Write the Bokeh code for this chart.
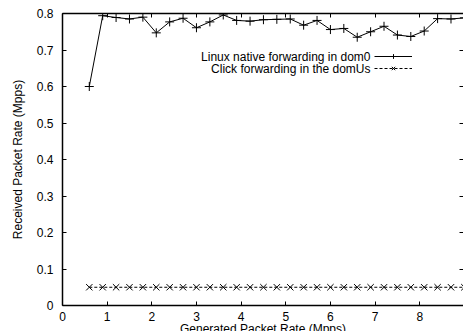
from bokeh.plotting import figure
from bokeh.models import Range1d, LinearAxis, FixedTicker, Legend, LegendItem, Label
from bokeh.embed import file_html
from bokeh.resources import INLINE

gen_rate = [0.6, 0.9, 1.2, 1.5, 1.8, 2.1, 2.4, 2.7, 3.0, 3.3, 3.6, 3.9, 4.2, 4.5, 4.8,
            5.1, 5.4, 5.7, 6.0, 6.3, 6.6, 6.9, 7.2, 7.5, 7.8, 8.1, 8.4, 8.7, 9.0]
linux_native = [0.600, 0.794, 0.789, 0.785, 0.790, 0.747, 0.777, 0.787, 0.761, 0.777,
                0.796, 0.781, 0.779, 0.783, 0.784, 0.785, 0.768, 0.781, 0.756, 0.759,
                0.735, 0.750, 0.765, 0.741, 0.737, 0.752, 0.786, 0.785, 0.788]
click_domus = [0.05, 0.05, 0.05, 0.05, 0.05, 0.05, 0.05, 0.05, 0.05, 0.05,
               0.05, 0.05, 0.05, 0.05, 0.05, 0.05, 0.05, 0.05, 0.05, 0.05,
               0.05, 0.05, 0.05, 0.05, 0.05, 0.05, 0.05, 0.05, 0.05]
series_names = ["Linux native forwarding in dom0", "Click forwarding in the domUs"]
x_ticks = [0, 1, 2, 3, 4, 5, 6, 7, 8]
y_ticks = [0, 0.1, 0.2, 0.3, 0.4, 0.5, 0.6, 0.7, 0.8]
y_tick_labels = ["0", "0.1", "0.2", "0.3", "0.4", "0.5", "0.6", "0.7", "0.8"]
x_title = "Generated Packet Rate (Mpps)"
y_title = "Received Packet Rate (Mpps)"

FONT = "Liberation Sans"
FS = "12px"

p = figure(width=463, height=338, output_backend="svg", toolbar_location=None,
           x_range=Range1d(0, 8.98), y_range=Range1d(0, 0.8),
           min_border_left=62, min_border_top=13, min_border_bottom=0, min_border_right=0,
           outline_line_color=None, background_fill_color="white", border_fill_color="white")
p.grid.visible = False

# main axes
xa = p.xaxis[0]
xa.ticker = FixedTicker(ticks=x_ticks)
xa.axis_label = x_title
ya = p.yaxis[0]
ya.ticker = FixedTicker(ticks=y_ticks)
ya.major_label_overrides = {t: l for t, l in zip(y_ticks, y_tick_labels)}
ya.axis_label = y_title
for ax in (xa, ya):
    ax.major_tick_in = 4
    ax.major_tick_out = 0
    ax.minor_tick_line_color = None
    ax.axis_line_width = 1.5
    ax.axis_line_color = "black"
    ax.major_tick_line_color = "black"
    ax.major_label_text_font = FONT
    ax.major_label_text_font_size = FS
    ax.major_label_text_color = "black"
    ax.axis_label_text_font = FONT
    ax.axis_label_text_font_size = FS
    ax.axis_label_text_font_style = "normal"
    ax.axis_label_text_color = "black"
xa.major_label_standoff = 6
xa.axis_label_standoff = -2
ya.major_label_standoff = 9
ya.axis_label_standoff = 9

# mirrored top and right axes (ticks only)
top = LinearAxis(ticker=FixedTicker(ticks=x_ticks), major_label_text_font_size="0px",
                 major_label_standoff=0, major_tick_in=4, major_tick_out=0,
                 minor_tick_line_color=None, axis_line_width=1.5, axis_line_color="black")
p.add_layout(top, "above")
right = LinearAxis(ticker=FixedTicker(ticks=y_ticks), major_label_text_font_size="0px",
                   major_label_standoff=0, major_tick_in=4, major_tick_out=0,
                   minor_tick_line_color=None, axis_line_color=None)
p.add_layout(right, "right")

# series
l1 = p.line(gen_rate, linux_native, line_color="black", line_width=1)
m1 = p.scatter(gen_rate, linux_native, marker="cross", size=9, line_color="black", line_width=1)
l2 = p.line(gen_rate, click_domus, line_color="black", line_width=1, line_dash="3 2")
m2 = p.scatter(gen_rate, click_domus, marker="x", size=9, line_color="black", line_width=1)

legend = Legend(items=[LegendItem(label=" ", renderers=[l1, m1]),
                       LegendItem(label=" ", renderers=[l2, m2])],
                location=(312, 231), orientation="vertical",
                glyph_width=38, glyph_height=12, spacing=0, padding=0, margin=0,
                label_standoff=0, label_text_font_size="1px", label_width=0, label_height=12,
                background_fill_alpha=0, border_line_color=None)
p.add_layout(legend, "center")

for i, name in enumerate(series_names):
    p.add_layout(Label(x=308, y=249 - 12 * i, x_units="screen", y_units="screen", text=name,
                       text_align="right", text_baseline="middle", text_font=FONT,
                       text_font_size=FS, text_color="black"))

open("out.html", "w").write(file_html(p, INLINE))
